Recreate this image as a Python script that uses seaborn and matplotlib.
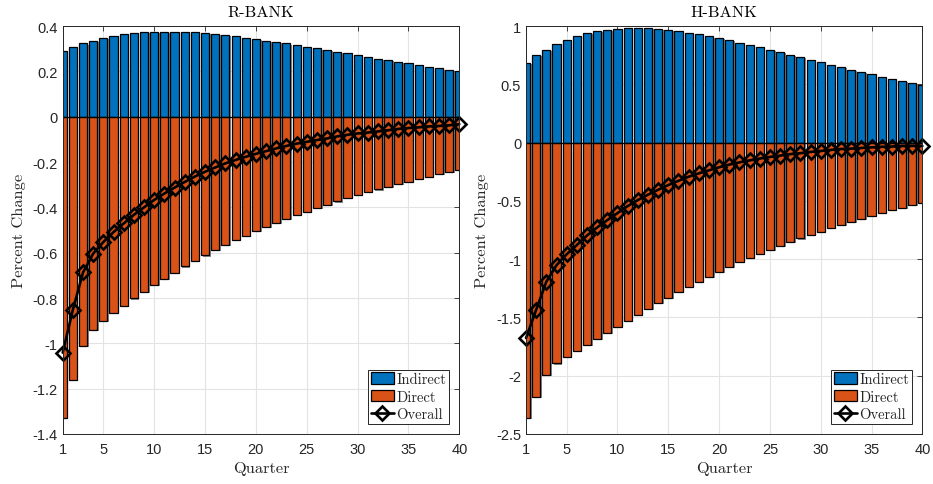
import matplotlib
matplotlib.use("Agg")
import matplotlib.pyplot as plt
import matplotlib.patheffects as pe
from matplotlib.patches import Patch
from matplotlib.lines import Line2D
from matplotlib.ticker import FuncFormatter
import pandas as pd
import seaborn as sns

# ---- data -------------------------------------------------------------
quarters = list(range(1, 41))

r_indirect = [0.289, 0.308, 0.323, 0.336, 0.347, 0.356, 0.363, 0.369, 0.372, 0.375,
              0.375, 0.375, 0.373, 0.372, 0.369, 0.364, 0.360, 0.354, 0.348, 0.342,
              0.335, 0.329, 0.323, 0.316, 0.308, 0.301, 0.293, 0.287, 0.280, 0.273,
              0.264, 0.256, 0.249, 0.243, 0.236, 0.228, 0.221, 0.213, 0.207, 0.203]
r_direct = [-1.330, -1.160, -1.010, -0.940, -0.900, -0.865, -0.834, -0.802, -0.772, -0.742,
            -0.714, -0.688, -0.661, -0.636, -0.612, -0.588, -0.566, -0.545, -0.525, -0.506,
            -0.487, -0.469, -0.452, -0.435, -0.419, -0.404, -0.389, -0.374, -0.360, -0.347,
            -0.334, -0.321, -0.309, -0.297, -0.286, -0.275, -0.264, -0.254, -0.245, -0.236]

h_indirect = [0.686, 0.749, 0.797, 0.843, 0.883, 0.911, 0.940, 0.957, 0.969, 0.977,
              0.983, 0.983, 0.980, 0.974, 0.966, 0.954, 0.943, 0.929, 0.911, 0.894,
              0.877, 0.857, 0.837, 0.817, 0.797, 0.774, 0.754, 0.731, 0.711, 0.691,
              0.669, 0.649, 0.626, 0.606, 0.586, 0.566, 0.546, 0.529, 0.509, 0.491]
h_direct = [-2.363, -2.183, -1.990, -1.895, -1.841, -1.790, -1.737, -1.685, -1.634, -1.582,
            -1.528, -1.476, -1.427, -1.379, -1.330, -1.282, -1.236, -1.193, -1.149, -1.106,
            -1.066, -1.027, -0.990, -0.954, -0.920, -0.886, -0.853, -0.822, -0.791, -0.763,
            -0.732, -0.704, -0.678, -0.652, -0.627, -0.602, -0.580, -0.558, -0.537, -0.520]

panel_titles = ["R-BANK", "H-BANK"]
series_names = ["Indirect", "Direct", "Overall"]
x_ticks = [1, 5, 10, 15, 20, 25, 30, 35, 40]
r_yticks = [-1.4, -1.2, -1.0, -0.8, -0.6, -0.4, -0.2, 0.0, 0.2, 0.4]
h_yticks = [-2.5, -2.0, -1.5, -1.0, -0.5, 0.0, 0.5, 1.0]
x_label = "Quarter"
y_label = "Percent Change"

# ---- style ------------------------------------------------------------
BLUE = "#0072BD"
ORANGE = "#D95319"
AXIS_COLOR = "#262626"
LABEL_FONT = "cmr10"
TICK_FONT = "Liberation Sans"

sns.set_style("white")
plt.rcParams.update({
    "font.family": [TICK_FONT, "DejaVu Sans"],
    "axes.unicode_minus": False,
    "axes.edgecolor": AXIS_COLOR,
    "axes.linewidth": 0.7,
    "xtick.color": AXIS_COLOR,
    "ytick.color": AXIS_COLOR,
    "xtick.direction": "in",
    "ytick.direction": "in",
    "xtick.top": True,
    "ytick.right": True,
    "xtick.major.size": 3.5,
    "ytick.major.size": 3.5,
    "xtick.major.width": 0.6,
    "ytick.major.width": 0.6,
    "xtick.major.pad": 5.5,
    "xtick.labelsize": 10.5,
    "ytick.labelsize": 10.5,
})

fig = plt.figure(figsize=(9.33, 4.85), dpi=100)
ax_r = fig.add_axes([0.0672, 0.1031, 0.4251, 0.8412])
ax_h = fig.add_axes([0.5638, 0.1031, 0.4248, 0.8412])

bar_shadow = [pe.SimplePatchShadow(offset=(1.1, -0.8), shadow_rgbFace="0.35", alpha=0.7),
              pe.Normal()]


def draw_panel(ax, title, indirect, direct, yticks):
    df = pd.DataFrame({"Quarter": quarters, "Indirect": indirect, "Direct": direct})
    df["Overall"] = df["Indirect"] + df["Direct"]

    for name, colour in ((series_names[0], BLUE), (series_names[1], ORANGE)):
        sns.barplot(data=df, x="Quarter", y=name, native_scale=True, width=0.8,
                    color=colour, saturation=1, edgecolor="black", linewidth=0.9,
                    errorbar=None, ax=ax, zorder=2)
    for patch in ax.patches:
        patch.set_path_effects(bar_shadow)

    ax.axhline(0, color="black", lw=0.9, zorder=2.5)

    sns.lineplot(data=df, x="Quarter", y="Overall", color="black", lw=1.9,
                 marker="D", ms=7, mfc="none", mec="black", mew=1.9,
                 ax=ax, zorder=4, clip_on=False)

    ax.set_xlim(quarters[0], quarters[-1])
    ax.set_ylim(yticks[0], yticks[-1])
    ax.set_xticks(x_ticks)
    ax.set_yticks(yticks)
    ax.yaxis.set_major_formatter(FuncFormatter(lambda v, _: f"{v:g}"))
    ax.grid(True, color="#e3e3e3", lw=0.8, zorder=0)
    ax.set_axisbelow(True)
    for sp in ax.spines.values():
        sp.set_zorder(5)

    ax.set_title(title, fontfamily=LABEL_FONT, fontsize=11.8, pad=7.5, color="black")
    ax.set_xlabel(x_label, fontfamily=LABEL_FONT, fontsize=11.8, color=AXIS_COLOR, labelpad=4)
    ax.set_ylabel(y_label, fontfamily=LABEL_FONT, fontsize=11.8, color=AXIS_COLOR, labelpad=5)

    handles = [
        Patch(facecolor=BLUE, edgecolor="black", linewidth=0.9),
        Patch(facecolor=ORANGE, edgecolor="black", linewidth=0.9),
        Line2D([], [], color="black", lw=1.9, marker="D", ms=7, mfc="none", mew=1.9),
    ]
    leg = ax.legend(handles, series_names, loc="lower right", frameon=True,
                    fancybox=False, framealpha=1, edgecolor=AXIS_COLOR,
                    prop={"family": LABEL_FONT, "size": 10.5},
                    handlelength=1.6, handleheight=0.8, handletextpad=0.15,
                    labelspacing=0.25, borderpad=0.2, borderaxespad=0.7)
    leg.get_frame().set_linewidth(0.7)
    leg.set_zorder(6)


draw_panel(ax_r, panel_titles[0], r_indirect, r_direct, r_yticks)
draw_panel(ax_h, panel_titles[1], h_indirect, h_direct, h_yticks)

fig.savefig("out.png", dpi=100)
